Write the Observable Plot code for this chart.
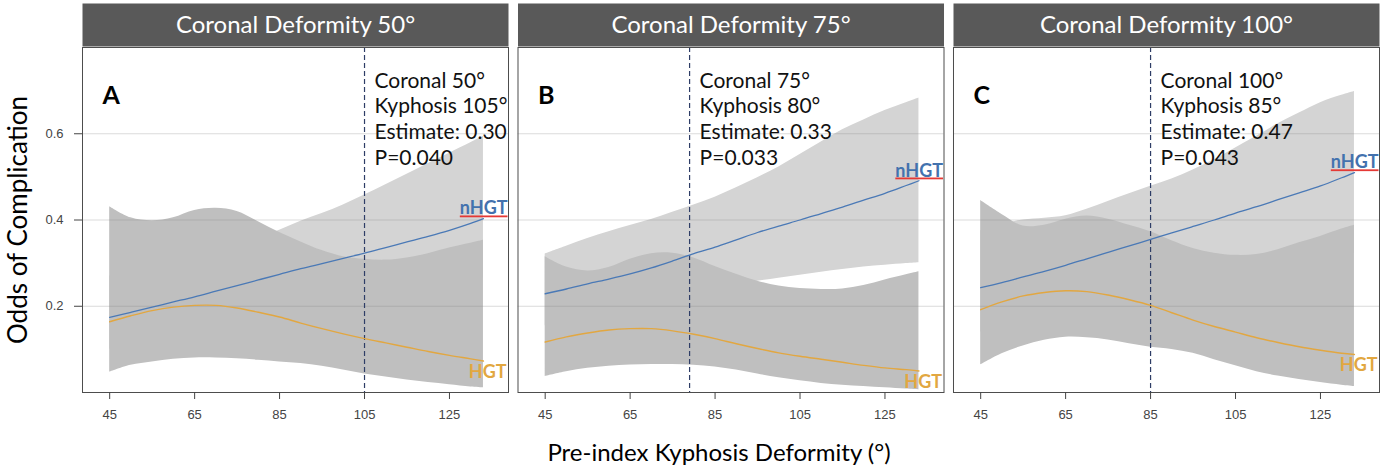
<!DOCTYPE html>
<html><head><meta charset="utf-8">
<script src="https://cdn.jsdelivr.net/npm/d3@7"></script>
<script src="https://cdn.jsdelivr.net/npm/@observablehq/plot@0.6"></script>
<style>body{margin:0;background:#fff}</style>
</head><body><div id="chart"></div>
<script>
const panels = ["Coronal Deformity 50°", "Coronal Deformity 75°", "Coronal Deformity 100°"];
const letters = ["A", "B", "C"];
const kyphosis = [105, 79, 85];
const notes = [
  ["Coronal 50°", "Kyphosis 105°", "Estimate: 0.30", "P=0.040"],
  ["Coronal 75°", "Kyphosis 80°", "Estimate: 0.33", "P=0.033"],
  ["Coronal 100°", "Kyphosis 85°", "Estimate: 0.47", "P=0.043"]
];
const xTicks = [45, 65, 85, 105, 125];
const yTicks = [0.2, 0.4, 0.6];
const xs = [45,50,55,60,65,70,75,80,85,90,95,100,105,110,115,120,125,130,133];

// Panel A
const nhgtEstA = [.174,.186,.198,.210,.222,.235,.248,.261,.274,.287,.299,.311,.323,.336,.349,.362,.376,.392,.403];
const nhgtLoA  = [.10,.11,.12,.135,.145,.155,.165,.175,.185,.195,.205,.215,.225,.235,.245,.25,.255,.26,.265];
const nhgtHiA  = [.27,.28,.29,.30,.31,.325,.34,.357,.376,.397,.415,.435,.458,.482,.506,.531,.555,.579,.594];
const hgtEstA  = [.164,.178,.190,.198,.202,.202,.196,.186,.175,.161,.148,.136,.125,.115,.105,.095,.086,.078,.073];
const hgtLoA   = [.047,.063,.071,.077,.080,.080,.078,.075,.071,.067,.061,.052,.043,.036,.029,.023,.018,.013,.011];
const hgtHiA   = [.431,.405,.398,.405,.422,.427,.420,.396,.371,.349,.329,.315,.309,.307,.312,.322,.335,.346,.353];
// Panel B
const nhgtEstB = [.229,.240,.252,.263,.275,.289,.305,.322,.337,.354,.371,.386,.400,.415,.430,.446,.462,.480,.491];
const nhgtLoB  = [.155,.167,.180,.193,.205,.216,.226,.235,.243,.25,.258,.265,.272,.279,.285,.291,.295,.299,.301];
const nhgtHiB  = [.321,.339,.357,.373,.387,.401,.418,.435,.453,.475,.498,.523,.552,.581,.609,.632,.654,.672,.683];
const hgtEstB  = [.117,.129,.138,.145,.148,.148,.143,.135,.125,.113,.102,.092,.084,.077,.070,.063,.057,.053,.050];
const hgtLoB   = [.037,.048,.056,.061,.064,.065,.065,.063,.059,.052,.043,.034,.027,.021,.017,.014,.011,.008,.006];
const hgtHiB   = [.315,.291,.282,.290,.309,.322,.323,.312,.292,.274,.258,.247,.241,.239,.240,.248,.261,.273,.280];
// Panel C
const nhgtEstC = [.243,.255,.268,.281,.295,.310,.325,.340,.355,.370,.385,.400,.416,.431,.447,.463,.479,.498,.510];
const nhgtLoC  = [.14,.155,.17,.185,.20,.215,.23,.245,.26,.27,.28,.29,.295,.30,.305,.31,.315,.32,.322];
const nhgtHiC  = [.375,.390,.400,.404,.410,.425,.443,.461,.478,.495,.516,.540,.567,.594,.623,.648,.672,.689,.698];
const hgtEstC  = [.192,.210,.224,.232,.236,.234,.226,.215,.202,.185,.168,.153,.140,.127,.116,.106,.098,.091,.088];
const hgtLoC   = [.064,.090,.108,.121,.128,.127,.122,.113,.105,.100,.091,.076,.062,.048,.038,.030,.023,.017,.014];
const hgtHiC   = [.445,.413,.386,.388,.402,.409,.402,.388,.373,.352,.334,.323,.318,.320,.331,.347,.362,.379,.388];

const series = [
  [nhgtEstA, nhgtLoA, nhgtHiA, hgtEstA, hgtLoA, hgtHiA],
  [nhgtEstB, nhgtLoB, nhgtHiB, hgtEstB, hgtLoB, hgtHiB],
  [nhgtEstC, nhgtLoC, nhgtHiC, hgtEstC, hgtLoC, hgtHiC]
];
const rows = [];
panels.forEach((p, i) => {
  const [ne, nl, nh, he, hl, hh] = series[i];
  xs.forEach((x, j) => rows.push({panel: p, x, nEst: ne[j], nLo: nl[j], nHi: nh[j], hEst: he[j], hLo: hl[j], hHi: hh[j]}));
});
const ends = panels.map(p => rows.filter(r => r.panel === p).at(-1));
const annots = panels.map((p, i) => ({panel: p, kyph: kyphosis[i], letter: letters[i], note: notes[i].join("\n")}));

const calib = "Lato, 'Open Sans', sans-serif";
const chart = Plot.plot({
  width: 1389, height: 471,
  marginTop: 47, marginRight: 10, marginBottom: 79, marginLeft: 82,
  style: {fontFamily: "'Liberation Sans', Arial, sans-serif", fontSize: "13px", color: "#444", background: "#fff"},
  fx: {domain: panels, paddingInner: 0.0218, paddingOuter: 0, round: false, axis: null},
  x: {domain: [38.6, 138.9]},
  y: {domain: [0, 0.8]},
  marks: [
    Plot.frame({fill: "#595959", stroke: "none", insetBottom: 302, dy: -44}),
    Plot.text(panels, {fx: d => d, text: d => d, frameAnchor: "top", dy: -22, fill: "white", fontSize: 24, fontFamily: calib, lineAnchor: "middle"}),
    Plot.areaY(rows, {fx: "panel", x: "x", y1: "nLo", y2: "nHi", fill: "#d4d4d4", curve: "catmull-rom"}),
    Plot.areaY(rows, {fx: "panel", x: "x", y1: "hLo", y2: "hHi", fill: "#bfbfbf", curve: "catmull-rom"}),
    Plot.ruleY(yTicks, {stroke: "#888", strokeOpacity: 0.3}),
    Plot.ruleX(annots, {fx: "panel", x: "kyph", stroke: "#2e3d66", strokeDasharray: "5,3", strokeWidth: 1.2}),
    Plot.lineY(rows, {fx: "panel", x: "x", y: "nEst", stroke: "#4a79b6", strokeWidth: 1.3, curve: "catmull-rom"}),
    Plot.lineY(rows, {fx: "panel", x: "x", y: "hEst", stroke: "#e2a741", strokeWidth: 1.4, curve: "catmull-rom"}),
    Plot.text(ends, {fx: "panel", y: "nEst", frameAnchor: "right", textAnchor: "end", dx: -1, dy: -10, text: () => "nHGT", fill: "#4372ae", fontWeight: "bold", fontSize: 18, fontFamily: calib}),
    Plot.text(ends, {fx: "panel", y: "hEst", frameAnchor: "right", textAnchor: "end", dx: -2, dy: 11, text: () => "HGT", fill: "#e2a741", fontWeight: "bold", fontSize: 18, fontFamily: calib}),
    Plot.text(annots, {fx: "panel", x: "kyph", frameAnchor: "top", text: "note", textAnchor: "start", lineAnchor: "top", dx: 10, dy: 22, fontSize: 21, lineHeight: 1.22, fill: "#111", fontFamily: calib}),
    Plot.text(annots, {fx: "panel", text: "letter", frameAnchor: "top-left", dx: 20, dy: 48, textAnchor: "start", lineAnchor: "middle", fontSize: 25, fontWeight: "bold", fill: "#000", fontFamily: calib}),
    Plot.frame({stroke: "#4d4d4d"}),
    Plot.axisX({ticks: xTicks, tickSize: 7, tickPadding: 10, label: null, fontSize: 13}),
    Plot.axisY({ticks: yTicks, tickSize: 8, tickPadding: 11, label: null, fontSize: 13, tickFormat: d => d.toFixed(1)}),
    Plot.text(["Pre-index Kyphosis Deformity (°)"], {facet: "super", text: d => d, frameAnchor: "bottom", dy: 61, dx: -12, fontSize: 24, fontFamily: calib, fill: "#000", lineAnchor: "middle", textAnchor: "middle"}),
    Plot.text(["Odds of Complication"], {facet: "super", text: d => d, frameAnchor: "left", dx: -64, rotate: -90, fontSize: 26, fontFamily: calib, fill: "#000", lineAnchor: "middle", textAnchor: "middle"})
  ]
});
document.getElementById("chart").appendChild(chart);
// spell-check style red underline under the nHGT labels (decoration painted with the text element's fill)
d3.select(chart).selectAll("text").filter(function() { return this.textContent === "nHGT"; })
  .each(function() {
    const el = d3.select(this);
    const blue = el.attr("fill") || "#4372ae";
    el.text(null).attr("fill", "#e53935").style("text-decoration", "underline");
    el.append("tspan").attr("fill", blue).text("nHGT");
  });
</script>
</body></html>
